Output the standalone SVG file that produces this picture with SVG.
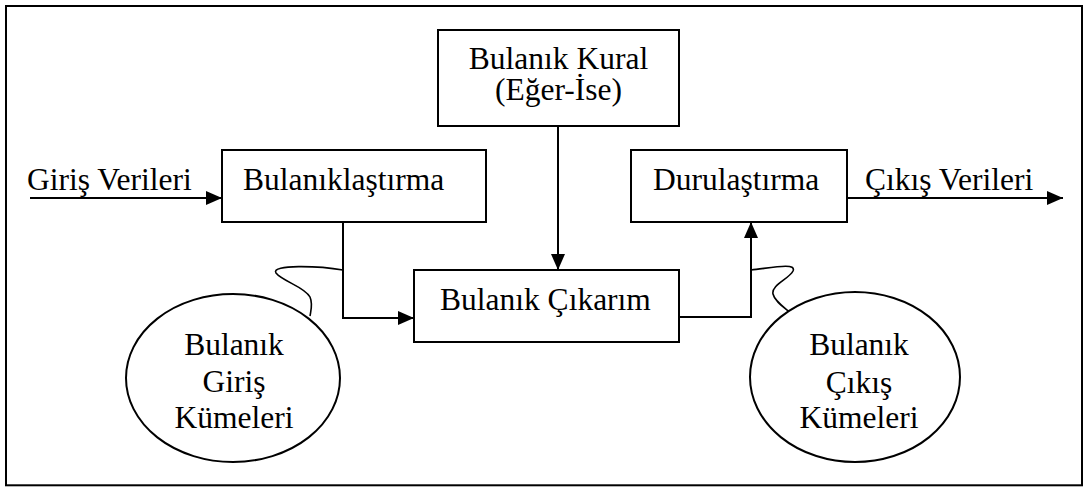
<svg xmlns="http://www.w3.org/2000/svg" width="1083" height="487" viewBox="0 0 1083 487">
  <style>
    .box { fill: #ffffff; stroke: #000000; stroke-width: 2; }
    .ell { fill: #ffffff; stroke: #000000; stroke-width: 2; }
    .lbl { font-family: "Liberation Serif", "Times New Roman", serif; font-size: 31.5px; fill: #000000; }
    .mid { text-anchor: middle; }
    .wire { fill: none; stroke: #000000; stroke-width: 2; }
    .wave { fill: none; stroke: #000000; stroke-width: 1.6; }
  </style>
  <defs>
    <marker id="arrow" markerUnits="userSpaceOnUse" markerWidth="16" markerHeight="14" refX="16" refY="7" orient="auto">
      <path d="M0,0 L16,7 L0,14 Z" fill="#000000"/>
    </marker>
  </defs>

  <!-- frame -->
  <rect x="6" y="6" width="1076" height="479.3" fill="#ffffff" stroke="#000000" stroke-width="2"/>

  <!-- connectors -->
  <g id="connectors">
    <path class="wire" d="M30,198 H222" marker-end="url(#arrow)"/>
    <path class="wire" d="M847,198 H1063" marker-end="url(#arrow)"/>
    <path class="wire" d="M558,126 V270" marker-end="url(#arrow)"/>
    <path class="wire" d="M343,222 V318 H414" marker-end="url(#arrow)"/>
    <path class="wire" d="M679,317 H751 V222" marker-end="url(#arrow)"/>
    <path class="wave" d="M343,270 C320,266 270,264 276,273 C282,281 305,287 310,297 C313,304 311,310 310,316"/>
    <path class="wave" d="M751,270 C770,268 797,262 793,271 C789,279 771,285 773,294 C775,303 789,310 796,318"/>
  </g>

  <!-- labels on the in/out arrows -->
  <text class="lbl" x="27" y="190">Giriş Verileri</text>
  <text class="lbl" x="865" y="190">Çıkış Verileri</text>

  <g id="kural">
    <rect class="box" x="438" y="30" width="241" height="96"/>
    <text class="lbl mid" x="558.5" y="69">Bulanık Kural</text>
    <text class="lbl mid" x="558.5" y="100">(Eğer-İse)</text>
  </g>

  <g id="bulaniklastirma">
    <rect class="box" x="222" y="150" width="264" height="72"/>
    <text class="lbl" x="243" y="190">Bulanıklaştırma</text>
  </g>

  <g id="durulastirma">
    <rect class="box" x="631" y="150" width="216" height="72"/>
    <text class="lbl" x="653" y="190">Durulaştırma</text>
  </g>

  <g id="cikarim">
    <rect class="box" x="414" y="270" width="265" height="72"/>
    <text class="lbl" x="440" y="310">Bulanık Çıkarım</text>
  </g>

  <g id="giris-kumeleri">
    <ellipse class="ell" cx="233" cy="378" rx="107" ry="84"/>
    <text class="lbl mid" x="234" y="355">Bulanık</text>
    <text class="lbl mid" x="234" y="392">Giriş</text>
    <text class="lbl mid" x="234" y="428">Kümeleri</text>
  </g>

  <g id="cikis-kumeleri">
    <ellipse class="ell" cx="855" cy="377" rx="105" ry="85"/>
    <text class="lbl mid" x="859" y="355">Bulanık</text>
    <text class="lbl mid" x="859" y="393">Çıkış</text>
    <text class="lbl mid" x="859" y="428">Kümeleri</text>
  </g>
</svg>
